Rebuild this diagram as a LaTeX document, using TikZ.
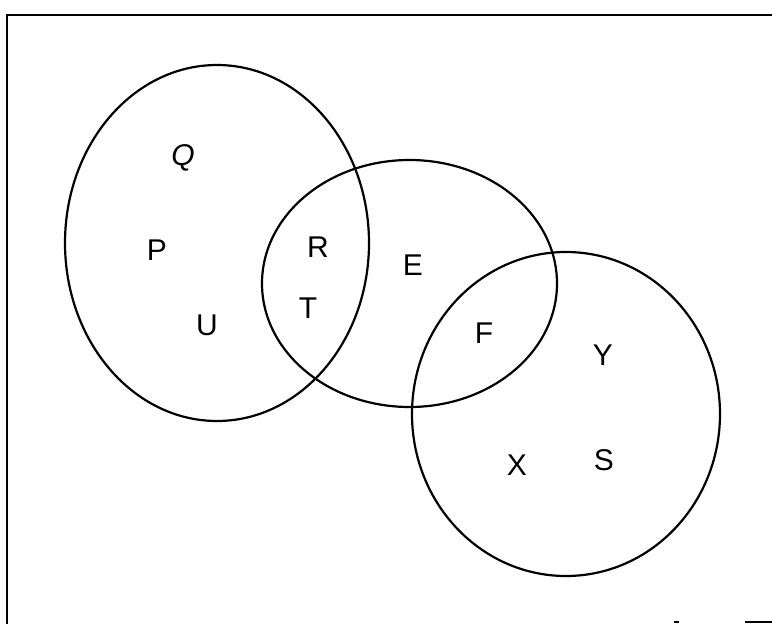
\documentclass[tikz,border=0pt]{standalone}
\usepackage{fontspec}
\setmainfont{Liberation Sans}
\begin{document}
\begin{tikzpicture}[x=1pt,y=-1pt,
  setline/.style={line width=2.2pt},
  framel/.style={line width=1.8pt},
  lbl/.style={font=\fontsize{30}{31}\selectfont, inner sep=0pt}]
\useasboundingbox (0,0) rectangle (772,624);
% frame
\draw[framel] (7,624) -- (7,15) -- (772,15);
\draw[framel] (745,622) -- (772,622);
\draw[framel] (674,622) -- (679,622);
% sets
\draw[setline] (217,243) ellipse [x radius=152, y radius=178];
\draw[setline] (409.5,283.5) ellipse [x radius=147.5, y radius=123.5];
\draw[setline] (566,414) ellipse [x radius=154, y radius=162];
% labels
\node[lbl] (q) at (183,158) {\itshape Q};
\node[lbl] (p) at (157,250) {P};
\node[lbl] (u) at (207,325) {U};
\node[lbl] (r) at (318,247) {R};
\node[lbl] (t) at (308,308) {T};
\node[lbl] (e) at (413,265) {E};
\node[lbl] (f) at (484,333) {F};
\node[lbl] (y) at (603,355) {Y};
\node[lbl] (x) at (517,465) {X};
\node[lbl] (s) at (604,460) {S};
\end{tikzpicture}
\end{document}
